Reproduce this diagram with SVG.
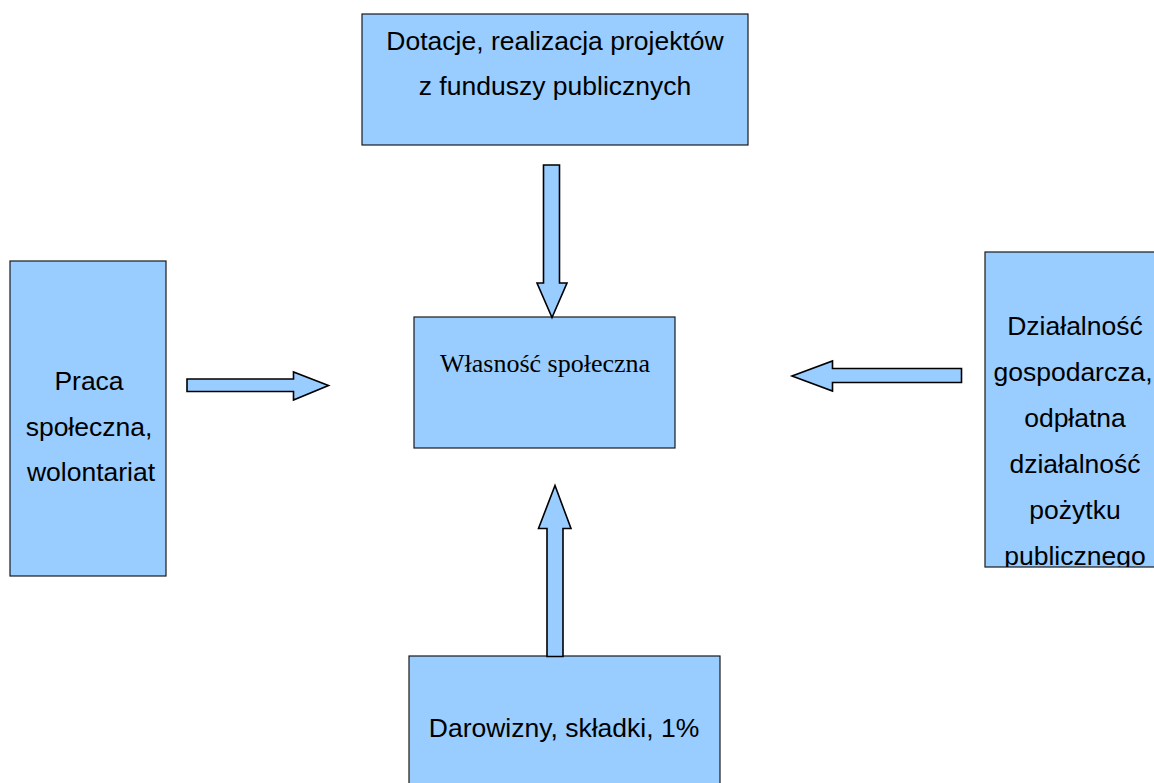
<svg xmlns="http://www.w3.org/2000/svg" width="1154" height="783" viewBox="0 0 1154 783">
<style>
.box{fill:#99ccff;stroke:#1a1a1a;stroke-width:1.2}
.arr{fill:#99ccff;stroke:#000;stroke-width:1.6;stroke-linejoin:miter}
.t{font-family:"Liberation Sans",Arial,sans-serif;font-size:26.5px;fill:#000;text-anchor:middle}
.s{font-family:"Liberation Serif","Times New Roman",serif;font-size:26px;fill:#000;text-anchor:middle}
</style>
<defs>
<clipPath id="clipR"><rect x="985" y="252" width="177" height="315"/></clipPath>
</defs>
<rect width="1154" height="783" fill="#fff"/>
<g id="top">
<rect class="box" x="362" y="14" width="386" height="131"/>
<text class="t" x="555" y="50">Dotacje, realizacja projektów</text>
<text class="t" x="555" y="95">z funduszy publicznych</text>
</g>
<g id="center">
<rect class="box" x="414" y="317" width="261" height="131"/>
<text class="s" x="545" y="372">Własność społeczna</text>
</g>
<g id="left">
<rect class="box" x="10" y="261" width="156" height="315"/>
<text class="t" x="89" y="390">Praca</text>
<text class="t" x="89" y="436">społeczna,</text>
<text class="t" x="91" y="481">wolontariat</text>
</g>
<g id="right">
<rect class="box" x="985" y="252" width="177" height="315"/>
<g clip-path="url(#clipR)">
<text class="t" x="1075" y="335">Działalność</text>
<text class="t" x="1073" y="381">gospodarcza,</text>
<text class="t" x="1075" y="427">odpłatna</text>
<text class="t" x="1075" y="473">działalność</text>
<text class="t" x="1075" y="519">pożytku</text>
<text class="t" x="1075" y="565">publicznego</text>
</g>
</g>
<g id="bottom">
<rect class="box" x="409" y="656" width="311" height="140"/>
<text class="t" x="564" y="737">Darowizny, składki, 1%</text>
</g>
<g id="connectors">
<polygon class="arr" points="543.5,165 559.5,165 559.5,283 567,283 552,317.5 537,283 543.5,283"/>
<polygon class="arr" points="187,379 293.5,379 293.5,372 328.5,385.5 293.5,400 293.5,391.5 187,391.5"/>
<polygon class="arr" points="961.5,368.5 832.5,368.5 832.5,361 792,376 832.5,391 832.5,382.5 961.5,382.5"/>
<polygon class="arr" points="547,656.5 547,528.5 538.5,528.5 555,485.5 571,528.5 563,528.5 563,656.5"/>
</g>
</svg>
